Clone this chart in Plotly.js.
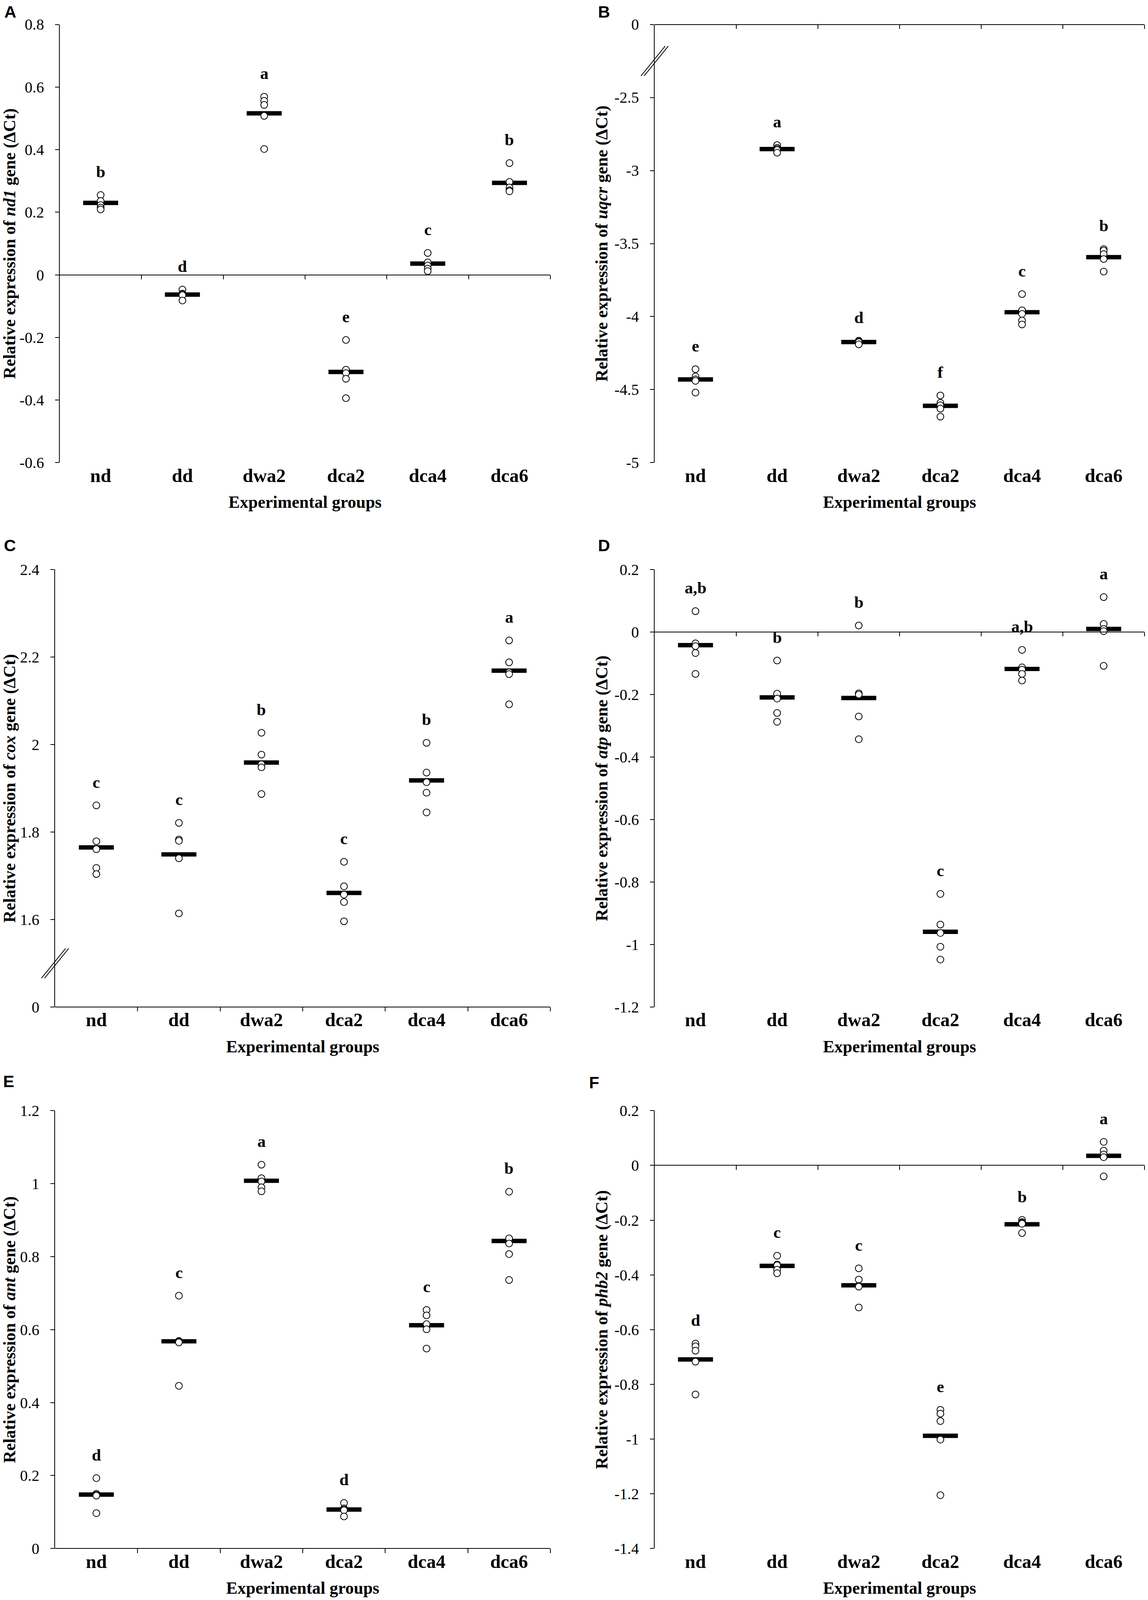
<!DOCTYPE html>
<html>
<head>
<meta charset="utf-8">
<script src="https://cdn.plot.ly/plotly-3.0.1.min.js"></script>
<style>html,body{margin:0;padding:0;background:#fff;overflow:hidden;}</style>
</head>
<body>
<div id="chart"></div>
<script>
// ---------------- DATA ----------------
const categories = ['nd', 'dd', 'dwa2', 'dca2', 'dca4', 'dca6'];

// A: nd1
const nd1Values = [
  [0.255, 0.236, 0.223, 0.215, 0.209],
  [-0.047, -0.060, -0.062, -0.065, -0.082],
  [0.569, 0.556, 0.543, 0.508, 0.402],
  [-0.208, -0.303, -0.314, -0.332, -0.394],
  [0.070, 0.040, 0.030, 0.020, 0.012],
  [0.357, 0.297, 0.279, 0.270, 0.267]
];
const nd1Means = [0.230, -0.063, 0.516, -0.310, 0.036, 0.294];
const nd1Letters = ['b', 'd', 'a', 'e', 'c', 'b'];
const nd1TickVals = [-0.6, -0.4, -0.2, 0, 0.2, 0.4, 0.6, 0.8];
const nd1TickText = ['-0.6', '-0.4', '-0.2', '0', '0.2', '0.4', '0.6', '0.8'];

// B: uqcr (broken axis: top tick is 0)
const uqcrValues = [
  [-4.36, -4.41, -4.43, -4.44, -4.52],
  [-2.826, -2.845, -2.853, -2.860, -2.878],
  [-4.165, -4.170, -4.172, -4.175, -4.190],
  [-4.54, -4.59, -4.607, -4.63, -4.685],
  [-3.846, -3.957, -3.982, -4.027, -4.054],
  [-3.538, -3.548, -3.572, -3.606, -3.692]
];
const uqcrMeans = [-4.43, -2.853, -4.174, -4.611, -3.97, -3.593];
const uqcrLetters = ['e', 'a', 'd', 'f', 'c', 'b'];
const uqcrTickVals = [-5, -4.5, -4, -3.5, -3, -2.5, -2];
const uqcrTickText = ['-5', '-4.5', '-4', '-3.5', '-3', '-2.5', '0'];

// C: cox (broken axis: bottom tick is 0)
const coxValues = [
  [1.861, 1.779, 1.761, 1.718, 1.704],
  [1.821, 1.783, 1.780, 1.740, 1.614],
  [2.027, 1.977, 1.955, 1.948, 1.887],
  [1.732, 1.676, 1.657, 1.640, 1.596],
  [2.004, 1.936, 1.914, 1.890, 1.845],
  [2.238, 2.188, 2.165, 2.161, 2.092]
];
const coxMeans = [1.765, 1.749, 1.959, 1.661, 1.918, 2.169];
const coxLetters = ['c', 'c', 'b', 'c', 'b', 'a'];
const coxTickVals = [1.4, 1.6, 1.8, 2.0, 2.2, 2.4];
const coxTickText = ['0', '1.6', '1.8', '2', '2.2', '2.4'];

// D: atp
const atpValues = [
  [0.067, -0.036, -0.045, -0.067, -0.134],
  [-0.091, -0.197, -0.213, -0.259, -0.287],
  [0.021, -0.196, -0.200, -0.270, -0.343],
  [-0.838, -0.936, -0.963, -1.007, -1.048],
  [-0.057, -0.113, -0.120, -0.134, -0.155],
  [0.112, 0.026, 0.010, 0.003, -0.108]
];
const atpMeans = [-0.042, -0.209, -0.211, -0.959, -0.118, 0.010];
const atpLetters = ['a,b', 'b', 'b', 'c', 'a,b', 'a'];
const atpTickVals = [-1.2, -1.0, -0.8, -0.6, -0.4, -0.2, 0, 0.2];
const atpTickText = ['-1.2', '-1', '-0.8', '-0.6', '-0.4', '-0.2', '0', '0.2'];

// E: ant
const antValues = [
  [0.193, 0.150, 0.147, 0.145, 0.097],
  [0.693, 0.569, 0.567, 0.565, 0.446],
  [1.052, 1.015, 1.006, 0.990, 0.979],
  [0.125, 0.110, 0.107, 0.105, 0.088],
  [0.654, 0.639, 0.615, 0.601, 0.548],
  [0.978, 0.850, 0.836, 0.807, 0.736]
];
const antMeans = [0.148, 0.568, 1.008, 0.107, 0.612, 0.843];
const antLetters = ['d', 'c', 'a', 'd', 'c', 'b'];
const antTickVals = [0, 0.2, 0.4, 0.6, 0.8, 1.0, 1.2];
const antTickText = ['0', '0.2', '0.4', '0.6', '0.8', '1', '1.2'];

// F: phb2
const phb2Values = [
  [-0.651, -0.661, -0.677, -0.717, -0.837],
  [-0.330, -0.362, -0.365, -0.381, -0.394],
  [-0.376, -0.417, -0.440, -0.443, -0.519],
  [-0.893, -0.907, -0.934, -1.002, -1.205],
  [-0.199, -0.207, -0.210, -0.213, -0.247],
  [0.086, 0.054, 0.040, 0.030, -0.040]
];
const phb2Means = [-0.709, -0.367, -0.438, -0.988, -0.215, 0.035];
const phb2Letters = ['d', 'c', 'c', 'e', 'b', 'a'];
const phb2TickVals = [-1.4, -1.2, -1.0, -0.8, -0.6, -0.4, -0.2, 0, 0.2];
const phb2TickText = ['-1.4', '-1.2', '-1', '-0.8', '-0.6', '-0.4', '-0.2', '0', '0.2'];

// ---------------- LAYOUT GEOMETRY ----------------
const REFW = 2939, REFH = 4385;
const W = window.innerWidth || REFW;
const H = window.innerHeight || REFH;
const SX = W / REFW, SY = H / REFH;
const S = Math.min(SX, SY);          // marks, ticks, offsets
const FS = (SX + SY) / 2;            // fonts
const SERIF = '"Liberation Serif", "Times New Roman", serif';
const SANS = '"Liberation Sans", Arial, sans-serif';

const panels = [
  {label: 'A', gene: 'nd1', values: nd1Values, means: nd1Means, letters: nd1Letters,
   tickvals: nd1TickVals, ticktext: nd1TickText, brk: false,
   box: [153, 67, 1409, 1268], labelPos: [26, 32]},
  {label: 'B', gene: 'uqcr', values: uqcrValues, means: uqcrMeans, letters: uqcrLetters,
   tickvals: uqcrTickVals, ticktext: uqcrTickText, brk: true,
   box: [1676, 67, 2930, 1268], labelPos: [1546, 32]},
  {label: 'C', gene: 'cox', values: coxValues, means: coxMeans, letters: coxLetters,
   tickvals: coxTickVals, ticktext: coxTickText, brk: true,
   box: [141, 1561, 1409, 2760], labelPos: [25, 1495]},
  {label: 'D', gene: 'atp', values: atpValues, means: atpMeans, letters: atpLetters,
   tickvals: atpTickVals, ticktext: atpTickText, brk: false,
   box: [1676, 1561, 2930, 2760], labelPos: [1546, 1495]},
  {label: 'E', gene: 'ant', values: antValues, means: antMeans, letters: antLetters,
   tickvals: antTickVals, ticktext: antTickText, brk: false,
   box: [141, 3044, 1409, 4244], labelPos: [22, 2963]},
  {label: 'F', gene: 'phb2', values: phb2Values, means: phb2Means, letters: phb2Letters,
   tickvals: phb2TickVals, ticktext: phb2TickText, brk: false,
   box: [1676, 3044, 2930, 4244], labelPos: [1521, 2966]}
];

const traces = [];
const layout = {
  width: W, height: H,
  margin: {l: 0, r: 0, t: 0, b: 0, pad: 0},
  paper_bgcolor: '#ffffff', plot_bgcolor: 'rgba(0,0,0,0)',
  showlegend: false,
  font: {family: SERIF, color: '#000000', size: 40 * FS},
  shapes: [], annotations: []
};

panels.forEach((p, i) => {
  const n = i + 1, ov = i + 7;
  const xd = [p.box[0] / REFW, p.box[2] / REFW];
  const yd = [1 - p.box[3] / REFH, 1 - p.box[1] / REFH];
  const tv = p.tickvals;
  const r0 = Math.min(...tv), r1 = Math.max(...tv);
  const zeroVal = tv[p.ticktext.indexOf('0')];
  const pos = yd[0] + (zeroVal - r0) / (r1 - r0) * (yd[1] - yd[0]);
  const xs = 'x' + n, ys = 'y' + n;

  // mean bars
  traces.push({
    type: 'scatter', mode: 'markers', xaxis: xs, yaxis: ys,
    x: categories.map((c, j) => j), y: p.means, hoverinfo: 'skip', cliponaxis: false,
    marker: {symbol: 'line-ew', size: 64 * SX, color: '#000', line: {color: '#000', width: 12 * S}}
  });
  // individual points
  const px = [], py = [];
  p.values.forEach((arr, j) => arr.forEach(v => { px.push(j); py.push(v); }));
  traces.push({
    type: 'scatter', mode: 'markers', xaxis: xs, yaxis: ys,
    x: px, y: py, hoverinfo: 'skip', cliponaxis: false,
    marker: {symbol: 'circle', size: 18 * FS, color: '#ffffff', line: {color: '#000', width: 2}}
  });
  // dummy trace so the overlay (category-boundary) axis is drawn
  traces.push({type: 'scatter', mode: 'markers', xaxis: 'x' + ov, yaxis: ys,
    x: [0], y: [null], hoverinfo: 'skip', marker: {opacity: 0}});

  layout['xaxis' + n] = {
    domain: xd, anchor: ys, range: [-0.5, categories.length - 0.5],
    tickvals: categories.map((c, j) => j), ticktext: categories,
    ticks: '', showline: false, showgrid: false, zeroline: false,
    tickfont: {family: SERIF, size: 50 * FS, weight: 'bold', color: '#000'},
    ticklabelstandoff: 2 * S,
    title: {text: 'Experimental groups', standoff: 28 * S,
            font: {family: SERIF, size: 45 * FS, weight: 'bold', color: '#000'}},
    automargin: false, fixedrange: true
  };
  layout['xaxis' + ov] = {
    overlaying: xs, anchor: 'free', position: pos, side: 'bottom',
    range: [-0.5, categories.length - 0.5],
    tickvals: categories.map((c, j) => j + 0.5), showticklabels: false,
    ticks: 'outside', ticklen: 11 * S, tickwidth: 2, tickcolor: '#000',
    showline: true, linewidth: 2, linecolor: '#000',
    showgrid: false, zeroline: false, automargin: false, fixedrange: true
  };
  layout['yaxis' + n] = {
    domain: yd, anchor: xs, range: [r0, r1],
    tickvals: tv, ticktext: p.ticktext,
    ticks: 'outside', ticklen: 11 * S, tickwidth: 2, tickcolor: '#000',
    showline: true, linewidth: 2, linecolor: '#000',
    showgrid: false, zeroline: false,
    tickfont: {family: SERIF, size: 41 * FS, color: '#000'},
    ticklabelstandoff: 20 * SX,
    title: {text: 'Relative expression of <i>' + p.gene + '</i> gene (ΔCt)', standoff: 4 * SX,
            font: {family: SERIF, size: 45 * FS, weight: 'bold', color: '#000'}},
    automargin: false, fixedrange: true
  };

  // significance letters, placed above the highest point of each group
  p.letters.forEach((L, j) => {
    layout.annotations.push({
      xref: xs, yref: ys, x: j, y: Math.max(...p.values[j]), yshift: 64 * SY,
      text: L, showarrow: false, xanchor: 'center', yanchor: 'middle',
      font: {family: SERIF, size: 44 * FS, weight: 'bold', color: '#000'}
    });
  });
  // panel label
  layout.annotations.push({
    xref: 'paper', yref: 'paper', x: p.labelPos[0] / REFW, y: 1 - p.labelPos[1] / REFH,
    text: p.label, showarrow: false, xanchor: 'center', yanchor: 'middle',
    font: {family: SANS, size: 44 * FS, weight: 'bold', color: '#000'}
  });

  // axis break marks (//) between the "0" tick and its neighbour
  if (p.brk) {
    const idx = p.ticktext.indexOf('0');
    const nb = tv[idx === 0 ? 1 : idx - 1];
    const bv = (zeroVal + nb) / 2;
    [-4, 4].forEach(dx => {
      layout.shapes.push({
        type: 'line', xref: xs + ' domain', yref: ys,
        xsizemode: 'pixel', xanchor: 0, x0: (-31 + dx) * SX, x1: (31 + dx) * SX,
        ysizemode: 'pixel', yanchor: bv, y0: -41 * SY, y1: 41 * SY,
        line: {color: '#000', width: 2}
      });
    });
  }
});

Plotly.newPlot('chart', traces, layout, {staticPlot: true, displayModeBar: false});
</script>
</body>
</html>
